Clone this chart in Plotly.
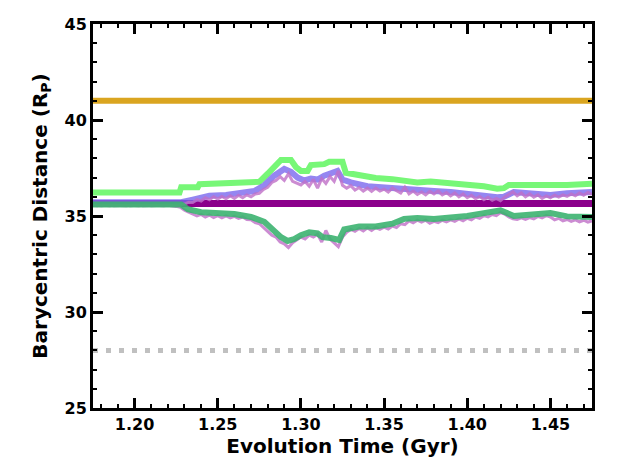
import numpy as np
import plotly.graph_objects as go

# ---- data ----
x_range = [1.175, 1.475]
y_range = [25, 45]
x_ticks = [1.20, 1.25, 1.30, 1.35, 1.40, 1.45]
x_ticktext = ["1.20", "1.25", "1.30", "1.35", "1.40", "1.45"]
y_ticks = [25, 30, 35, 40, 45]

orange_level = 41.0
gray_level = 28.0
purple_level = 35.65

upper_env_t = [1.175, 1.227, 1.228, 1.238, 1.239, 1.270, 1.275, 1.280, 1.285, 1.288, 1.294, 1.297, 1.300, 1.304, 1.306,
               1.314, 1.317, 1.325, 1.327, 1.335, 1.345, 1.355, 1.362, 1.370, 1.378, 1.390, 1.400, 1.410, 1.418, 1.422,
               1.425, 1.440, 1.450, 1.460, 1.475]
upper_env_y = [36.22, 36.22, 36.50, 36.50, 36.66, 36.70, 36.78, 37.2, 37.7, 37.92, 37.92, 37.55, 37.35, 37.35, 37.65,
               37.70, 37.82, 37.82, 37.25, 37.10, 36.98, 36.92, 36.82, 36.75, 36.80, 36.72, 36.65, 36.55, 36.42, 36.45,
               36.62, 36.62, 36.55, 36.62, 36.68]

mean_t = [1.175, 1.228, 1.235, 1.245, 1.255, 1.265, 1.272, 1.278, 1.284, 1.290, 1.294, 1.298, 1.302, 1.306, 1.310,
          1.314, 1.318, 1.322, 1.325, 1.330, 1.340, 1.350, 1.360, 1.370, 1.380, 1.390, 1.400, 1.410, 1.418, 1.422,
          1.428, 1.440, 1.450, 1.460, 1.475]
mean_y = [35.72, 35.72, 35.85, 36.05, 36.1, 36.2, 36.3, 36.6, 37.1, 37.45, 37.3, 37.0, 36.85, 36.95, 36.9,
          37.1, 37.25, 37.35, 36.9, 36.75, 36.55, 36.48, 36.4, 36.3, 36.3, 36.25, 36.12, 36.05, 35.98, 36.0,
          36.25, 36.2, 36.1, 36.18, 36.25]

lower_env_t = [1.175, 1.228, 1.232, 1.240, 1.260, 1.270, 1.278, 1.284, 1.288, 1.292, 1.296, 1.300, 1.305, 1.310, 1.313,
               1.318, 1.323, 1.326, 1.335, 1.345, 1.355, 1.362, 1.370, 1.380, 1.390, 1.400, 1.410, 1.420, 1.428, 1.440,
               1.450, 1.460, 1.475]
lower_env_y = [35.6, 35.6, 35.35, 35.2, 35.1, 34.95, 34.7, 34.2, 33.9, 33.7, 33.8, 34.0, 34.15, 34.1, 33.9,
               33.85, 33.75, 34.3, 34.45, 34.45, 34.6, 34.85, 34.9, 34.85, 34.9, 35.0, 35.15, 35.3, 35.0, 35.05,
               35.15, 34.98, 34.95]

# noisy traces sampled every 0.0025 Gyr from 1.175 to 1.475
orchid_upper = [35.56, 35.54, 35.57, 35.55, 35.53, 35.56, 35.55, 35.57, 35.54, 35.56, 35.55, 35.53, 35.56, 35.57, 35.54,
                35.55, 35.56, 35.54, 35.57, 35.55, 35.56, 35.58,
                35.62, 35.72, 35.70, 35.85, 35.78, 35.95, 35.85, 36.00, 35.88, 36.02,
                35.90, 36.05, 35.92, 36.08, 35.95, 36.10, 36.00, 36.15, 36.18, 36.38,
                36.50, 36.75, 36.85, 37.05, 36.85, 37.20, 36.80, 36.70, 36.62, 36.80,
                36.55, 36.90, 36.45, 36.95, 36.70, 37.05, 36.80, 37.35, 36.60, 36.45,
                36.58, 36.35, 36.48, 36.30, 36.45, 36.28, 36.45, 36.30, 36.40, 36.25,
                36.45, 36.32, 36.20, 36.50, 36.15, 36.30, 36.12, 36.25, 36.10, 36.28,
                36.15, 36.30, 36.10, 36.22, 36.05, 36.20, 36.00, 36.15, 35.95, 36.08,
                35.90, 36.02, 35.85, 35.98, 35.82, 35.92, 35.80, 35.98, 36.12, 36.25,
                36.05, 36.20, 36.00, 36.15, 35.98, 36.10, 35.92, 36.05, 35.95, 36.08,
                35.98, 36.10, 36.02, 36.15, 36.05, 36.20, 36.08, 36.22, 36.12]
orchid_lower = [35.54, 35.56, 35.53, 35.55, 35.57, 35.54, 35.55, 35.53, 35.56, 35.54, 35.55, 35.57, 35.53, 35.55, 35.54,
                35.56, 35.55, 35.53, 35.56, 35.54, 35.50, 35.45,
                35.30, 35.20, 35.12, 35.00, 35.08, 34.95, 35.05, 34.92, 35.02, 34.90,
                35.00, 34.90, 34.98, 34.88, 34.95, 34.82, 34.80, 34.65, 34.60, 34.40,
                34.25, 34.00, 33.90, 33.65, 33.55, 33.35, 33.60, 33.75, 33.90, 33.80,
                34.00, 33.90, 34.05, 33.65, 34.25, 33.80, 33.60, 33.40, 33.90, 34.15,
                34.30, 34.20, 34.35, 34.22, 34.38, 34.25, 34.40, 34.30, 34.42, 34.32,
                34.48, 34.40, 34.60, 34.55, 34.75, 34.65, 34.78, 34.68, 34.78, 34.62,
                34.72, 34.65, 34.78, 34.70, 34.80, 34.72, 34.85, 34.75, 34.88, 34.80,
                34.95, 34.88, 35.02, 34.95, 35.08, 35.02, 35.18, 35.10, 34.95, 34.85,
                34.82, 34.90, 34.82, 34.92, 34.85, 34.98, 34.90, 35.02, 34.95, 34.80,
                34.88, 34.75, 34.82, 34.72, 34.80, 34.70, 34.78, 34.68, 34.75]
orchid_t = np.linspace(x_range[0], x_range[1], len(orchid_upper))
orchid_t2 = np.linspace(x_range[0], x_range[1], len(orchid_lower))

fig = go.Figure()
fig.add_trace(go.Scatter(x=x_range, y=[orange_level] * 2, mode="lines",
                         line=dict(color="#DAA520", width=6)))
fig.add_trace(go.Scatter(x=x_range, y=[gray_level] * 2, mode="lines",
                         line=dict(color="#C0C0C0", width=5, dash="5px,8px")))
fig.add_trace(go.Scatter(x=x_range, y=[purple_level] * 2, mode="lines",
                         line=dict(color="#8B008B", width=7)))
fig.add_trace(go.Scatter(x=upper_env_t, y=upper_env_y, mode="lines",
                         line=dict(color="#77F777", width=6)))
fig.add_trace(go.Scatter(x=mean_t, y=mean_y, mode="lines", opacity=0.8,
                         line=dict(color="#7B68EE", width=6)))
fig.add_trace(go.Scatter(x=orchid_t, y=orchid_upper, mode="lines", opacity=0.8,
                         line=dict(color="#C070C8", width=3)))
fig.add_trace(go.Scatter(x=orchid_t2, y=orchid_lower, mode="lines", opacity=0.8,
                         line=dict(color="#C070C8", width=3)))
fig.add_trace(go.Scatter(x=lower_env_t, y=lower_env_y, mode="lines", opacity=0.9,
                         line=dict(color="#3CB371", width=6)))

axis_common = dict(
    showline=True, linecolor="black", linewidth=3, mirror="allticks",
    ticks="inside", ticklen=10, tickwidth=2.5, tickcolor="black",
    showgrid=False, zeroline=False,
    tickfont=dict(family="DejaVu Sans", size=16, color="black", weight="bold"),
)
fig.update_xaxes(range=x_range, tickvals=x_ticks, ticktext=x_ticktext,
                 minor=dict(ticks="inside", ticklen=4, tickwidth=2, tickcolor="black", dtick=0.01, tick0=1.20),
                 title=dict(text="Evolution Time (Gyr)", standoff=6,
                            font=dict(family="DejaVu Sans", size=20, color="black", weight="bold")),
                 **axis_common)
fig.update_yaxes(range=y_range, tickvals=y_ticks,
                 minor=dict(ticks="inside", ticklen=4, tickwidth=2, tickcolor="black", dtick=1, tick0=25),
                 title=dict(text="Barycentric Distance (R<sub>P</sub>)", standoff=12,
                            font=dict(family="DejaVu Sans", size=20, color="black", weight="bold")),
                 **axis_common)
fig.update_layout(width=623, height=467, showlegend=False,
                  margin=dict(l=85, r=39, t=16, b=67, autoexpand=False),
                  paper_bgcolor="white", plot_bgcolor="white")
fig.write_html("out.html")
